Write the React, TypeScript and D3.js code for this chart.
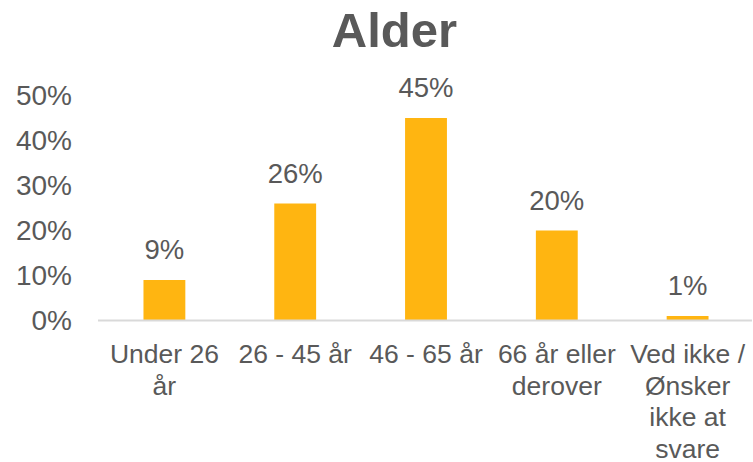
import React from 'react'
import * as d3 from 'd3'

const categories = [
  ['Under 26', 'år'],
  ['26 - 45 år'],
  ['46 - 65 år'],
  ['66 år eller', 'derover'],
  ['Ved ikke /', 'Ønsker', 'ikke at', 'svare'],
]
const values = [9, 26, 45, 20, 1]
const yTicks = [0, 10, 20, 30, 40, 50]

export default function App() {
  const width = 753
  const height = 462
  const textColor = '#595959'
  const barColor = '#FFB511'
  const font = 'Arial, "Liberation Sans", sans-serif'

  const x = d3.scaleBand<number>()
    .domain(d3.range(categories.length))
    .range([99, 753])
    .paddingInner(0.68)
    .paddingOuter(0.34)

  const y = d3.scaleLinear().domain([0, 50]).range([320.5, 95.5])

  return (
    <svg width={width} height={height} style={{ position: 'absolute', left: 0, top: 0 }} fontFamily={font}>
      <rect width={width} height={height} fill="#fff" />
      <text x={394.5} y={47} textAnchor="middle" fontSize={49} fontWeight="bold" fill={textColor}>Alder</text>

      {yTicks.map(t => (
        <text key={t} x={72} y={y(t)} dy="0.35em" textAnchor="end" fontSize={28} fill={textColor}>{t}%</text>
      ))}

      {values.map((v, i) => (
        <g key={i}>
          <rect x={x(i)} y={y(v)} width={x.bandwidth()} height={y(0) - y(v)} fill={barColor} />
          <text x={x(i)! + x.bandwidth() / 2} y={y(v) - 21} textAnchor="middle" fontSize={27.5} fill={textColor}>{v}%</text>
        </g>
      ))}

      <line x1={98} x2={752} y1={y(0)} y2={y(0)} stroke="#D9D9D9" strokeWidth={2} />

      {categories.map((lines, i) => (
        <text key={i} x={x(i)! + x.bandwidth() / 2} y={363} textAnchor="middle" fontSize={26.5} fill={textColor}>
          {lines.map((l, j) => (
            <tspan key={j} x={x(i)! + x.bandwidth() / 2} dy={j === 0 ? 0 : 31.5}>{l}</tspan>
          ))}
        </text>
      ))}
    </svg>
  )
}
